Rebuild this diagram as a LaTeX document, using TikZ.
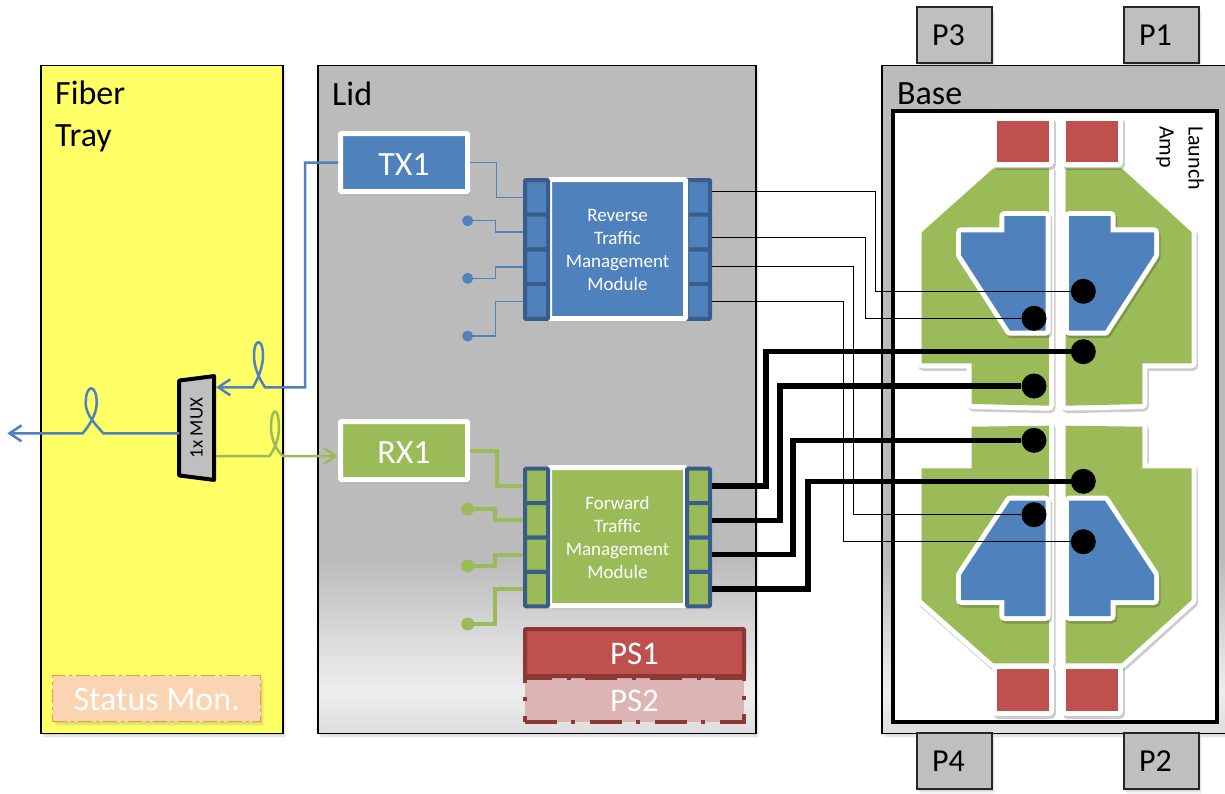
\documentclass[tikz,border=0pt]{standalone}
\usepackage{xcolor}
\usepackage{fontspec}
\setmainfont{Carlito}
\definecolor{TrayYellow}{HTML}{FFFF66}
\definecolor{LidGray}{HTML}{BBBBBB}
\definecolor{BoxGray}{HTML}{BFBFBF}
\definecolor{FiberBlue}{HTML}{4F81BD}
\definecolor{PortBlue}{HTML}{385D8A}
\definecolor{FiberGreen}{HTML}{9BBB59}
\definecolor{PowerRed}{HTML}{C0504D}
\definecolor{PowerDark}{HTML}{8C3836}
\definecolor{PowerPale}{HTML}{DBB4B3}
\definecolor{MonFill}{HTML}{FBD4B4}
\definecolor{MonEdge}{HTML}{F79646}
\usepackage{tikz}
\usetikzlibrary{calc, positioning, shapes.geometric, arrows.meta, shadows}
\pgfdeclareverticalshading{panelshade}{100bp}{color(0bp)=(LidGray!50!white); color(25bp)=(LidGray!50!white);
  color(28bp)=(LidGray!25!white); color(33bp)=(LidGray!60!white); color(38bp)=(LidGray); color(100bp)=(LidGray)}
\newcommand{\basepad}[2]{%
  \draw[padshadow] #2 -- cycle;
  \draw[padline] #2 -- cycle;
  \fill[#1] #2 -- cycle;}

\begin{document}
\begin{tikzpicture}[
    x=1pt, y=-1pt,
    softshadow/.style={drop shadow={shadow xshift=1pt, shadow yshift=-1.5pt, opacity=.15},
                       drop shadow={shadow xshift=2pt, shadow yshift=-3pt, opacity=.12},
                       drop shadow={shadow xshift=3pt, shadow yshift=-4.5pt, opacity=.08}},
    panel/.style={draw=black, line width=1.2pt, minimum height=668pt, inner sep=0pt, softshadow},
    paneltext/.style={inner sep=0pt, align=left, font=\fontsize{34}{42}\selectfont},
    loadbox/.style={draw=black!85, fill=BoxGray, line width=1.2pt, minimum width=75pt, minimum height=56pt,
                    inner sep=0pt, text height=21pt, text depth=0pt, softshadow, font=\fontsize{32}{38}\selectfont},
    optic/.style={draw=white, line width=5pt, rounded corners=1pt, minimum width=127pt, minimum height=58pt,
                  inner sep=0pt, text=white, text height=25pt, text depth=0pt, softshadow,
                  font=\fontsize{34}{40}\selectfont},
    module/.style={draw=white, line width=5pt, rounded corners=1pt, minimum width=136pt, inner sep=0pt,
                   align=center, text=white, softshadow, font=\fontsize{19}{23}\selectfont},
    port/.style={draw=PortBlue, line width=4pt, minimum width=23pt, inner sep=0pt, rounded corners=1pt},
    revport/.style={port, fill=FiberBlue, minimum height=34.75pt},
    fwdport/.style={port, fill=FiberGreen, minimum height=34.4pt},
    revdot/.style={circle, fill=FiberBlue, minimum size=11pt, inner sep=0pt},
    fwddot/.style={circle, fill=FiberGreen, minimum size=13pt, inner sep=0pt},
    basedot/.style={circle, fill=black, minimum size=25pt, inner sep=0pt},
    power/.style={minimum width=219pt, inner sep=0pt, line width=4pt, text=white, text height=23.5pt,
                  text depth=0pt, font=\fontsize{33}{38}\selectfont},
    padline/.style={draw=white, line width=10pt, line join=round},
    padshadow/.style={draw=black, opacity=.2, line width=10pt, line join=round, shift={(1.5,2.5)}},
    fiberarr/.style={line width=2.5pt, -{Straight Barb[length=12pt, width=16pt]}},
    thinwire/.style={draw=black, line width=1pt},
    thickwire/.style={draw=black, line width=5.5pt},
    elbow/.style={to path={-| ($(\tikztostart)!.5!(\tikztotarget)$) |- (\tikztotarget)}}
  ]
    \useasboundingbox (0,0) rectangle (1225,793);
    \fill[white] (0,0) rectangle (1225,793);

    % panels
    \node[panel, fill=TrayYellow, minimum width=242pt] (tray) at (162,399.5) {};
    \node[panel, shading=panelshade, minimum width=438pt] (lid) at (537,399.5) {};
    \node[panel, shading=panelshade, minimum width=350pt] (base) at (1057,399.5) {};
    \node[paneltext, anchor=west] (traytext) at (55,116) {Fiber\\Tray};
    \node[paneltext, anchor=west] (lidtext) at (332,94) {Lid};
    \node[paneltext, anchor=west] (basetext) at (897,94) {Base};
    \node[draw=black, fill=white, line width=4pt, minimum width=324pt, minimum height=611pt,
          inner sep=0pt] (frame) at (1055,416.5) {};
    \node[rotate=-90, anchor=west, align=left, inner sep=0pt, font=\fontsize{22}{29}\selectfont] (launch)
      at (1180,126) {Launch\\Amp};

    % load boxes
    \node[loadbox] (p3) at (954.5,35) {P3\rule{12pt}{0pt}};
    \node[loadbox] (p1) at (1161.5,35) {P1\rule{12pt}{0pt}};
    \node[loadbox] (p4) at (954.5,761) {P4\rule{12pt}{0pt}};
    \node[loadbox] (p2) at (1161.5,761) {P2\rule{12pt}{0pt}};

    % amplifier halves, top
    \basepad{FiberGreen}{(993.3,168.3) -- (921.7,232.3) -- (921.7,363.3) -- (971.7,363.3) -- (971.7,404) -- (1049,405.7) -- (1049,168.3)}
    \basepad{FiberGreen}{(1121.7,168.3) -- (1191.7,232.3) -- (1191.7,363.3) -- (1142.3,363.3) -- (1142.3,404) -- (1065.7,405.7) -- (1065.7,168.3)}
    \basepad{FiberBlue}{(1045.7,216) -- (1004.3,216) -- (1004.3,232.3) -- (961,232.3) -- (961,255) -- (1010,330.7) -- (1045.7,330.7)}
    \basepad{FiberBlue}{(1069,216) -- (1110.7,216) -- (1110.7,232.3) -- (1154,232.3) -- (1154,255) -- (1105,330.7) -- (1069,330.7)}
    \basepad{PowerRed}{(997,121) -- (1049,121) -- (1049,162) -- (997,162)}
    \basepad{PowerRed}{(1066,121) -- (1118,121) -- (1118,162) -- (1066,162)}
    % amplifier halves, bottom
    \basepad{FiberGreen}{(971.7,426.7) -- (1049,425.7) -- (1049,663.3) -- (993.3,663.3) -- (921.7,600) -- (921.7,468.3) -- (971.7,468.3)}
    \basepad{FiberGreen}{(1142.3,426.7) -- (1065.7,425.7) -- (1065.7,663.3) -- (1121.7,663.3) -- (1191.7,600) -- (1191.7,468.3) -- (1142.3,468.3)}
    \basepad{FiberBlue}{(1045.7,500.7) -- (1010,500.7) -- (961,575) -- (961,600) -- (1004.3,600) -- (1004.3,616) -- (1045.7,616)}
    \basepad{FiberBlue}{(1069,500.7) -- (1105,500.7) -- (1154,575) -- (1154,600) -- (1110.7,600) -- (1110.7,616) -- (1069,616)}
    \basepad{PowerRed}{(997,669) -- (1049,669) -- (1049,711) -- (997,711)}
    \basepad{PowerRed}{(1066,669) -- (1118,669) -- (1118,711) -- (1066,711)}

    % fiber tray
    \node[draw=black, fill=BoxGray, line width=4pt, line join=round, trapezium, trapezium stretches=true,
          trapezium left angle=77, trapezium right angle=77, minimum width=104pt, minimum height=35pt,
          inner sep=0pt, rotate=90, font=\fontsize{19}{20}\selectfont] (mux) at (196.6,428) {1x MUX};
    \node[draw=MonEdge, fill=MonFill, line width=1.5pt, dash pattern=on 14pt off 4pt on 3pt off 4pt,
          minimum width=208pt, minimum height=46pt, inner sep=0pt, text=white, text height=23pt, text depth=0pt,
          softshadow, font=\fontsize{34}{40}\selectfont] (status) at (156.7,698.7) {Status Mon.};

    % lid
    \node[optic, fill=FiberBlue] (tx1) at (404,162.5) {TX1};
    \node[optic, fill=FiberGreen] (rx1) at (404,450.5) {RX1};
    \node[revport] (revR1) at (698.5,197.4) {};
    \node[revport] (revR2) at (698.5,232.1) {};
    \node[revport] (revR3) at (698.5,266.9) {};
    \node[revport] (revR4) at (698.5,301.6) {};
    \node[module, fill=FiberBlue, minimum height=139pt] (revmod) at (617.5,249)
      {\rule{0pt}{14.2pt}Reverse\\Traffic\\Management\\Module};
    \node[revport] (revL1) at (536.5,197.4) {};
    \node[revport] (revL2) at (536.5,232.1) {};
    \node[revport] (revL3) at (536.5,266.9) {};
    \node[revport] (revL4) at (536.5,301.6) {};
    \node[module, fill=FiberGreen, minimum height=138pt] (fwdmod) at (617.5,536.5)
      {\rule{0pt}{14.2pt}Forward\\Traffic\\Management\\Module};
    \node[fwdport] (fwdL1) at (536.5,485.9) {};
    \node[fwdport] (fwdL2) at (536.5,520.3) {};
    \node[fwdport] (fwdL3) at (536.5,554.7) {};
    \node[fwdport] (fwdL4) at (536.5,589.1) {};
    \node[fwdport] (fwdR1) at (698.5,485.9) {};
    \node[fwdport] (fwdR2) at (698.5,520.3) {};
    \node[fwdport] (fwdR3) at (698.5,554.7) {};
    \node[fwdport] (fwdR4) at (698.5,589.1) {};
    \node[power, draw=PowerDark, fill=PowerPale, dash pattern=on 32pt off 14pt on 4pt off 15pt,
          minimum height=44pt] (ps2) at (634.5,700) {PS2};
    \node[power, draw=PowerDark, fill=PowerRed, minimum height=47pt, rounded corners=1pt] (ps1) at (634.5,652.5) {PS1};

    \node[revdot] (revin2) at (467.7,220.7) {};
    \node[revdot] (revin3) at (467.7,278.3) {};
    \node[revdot] (revin4) at (467.7,336) {};
    \node[fwddot] (fwdin2) at (467.7,509) {};
    \node[fwddot] (fwdin3) at (467.7,566) {};
    \node[fwddot] (fwdin4) at (467.7,624) {};

    \draw[draw=FiberBlue, line width=1.5pt] (tx1.east) to[elbow] (revL1.west);
    \draw[draw=FiberBlue, line width=1.5pt] (revin2.center) to[elbow] (revL2.west);
    \draw[draw=FiberBlue, line width=1.5pt] (revin3.center) to[elbow] (revL3.west);
    \draw[draw=FiberBlue, line width=1.5pt] (revin4.center) to[elbow] (revL4.west);
    \draw[draw=FiberGreen, line width=4pt] (rx1.east) to[elbow] (fwdL1.west);
    \draw[draw=FiberGreen, line width=4pt] (fwdin2.center) to[elbow] (fwdL2.west);
    \draw[draw=FiberGreen, line width=4pt] (fwdin3.center) to[elbow] (fwdL3.west);
    \draw[draw=FiberGreen, line width=4pt] (fwdin4.center) to[elbow] (fwdL4.west);

    % wires to the amplifier
    \node[basedot] (dotA) at (1083.3,291.3) {};
    \node[basedot] (dotB) at (1034,318.3) {};
    \node[basedot] (dotC) at (1083.3,351.7) {};
    \node[basedot] (dotD) at (1034,386) {};
    \node[basedot] (dotE) at (1034,440.3) {};
    \node[basedot] (dotF) at (1083.3,481.3) {};
    \node[basedot] (dotG) at (1034,514.7) {};
    \node[basedot] (dotH) at (1083.3,541.7) {};

    \draw[thinwire] (revR1.east |- 0,191.7) -| (875,0 |- dotA) -- (dotA);
    \draw[thinwire] (revR2.east |- 0,237.7) -| (865,0 |- dotB) -- (dotB);
    \draw[thinwire] (revR3.east) -| (853,0 |- dotG) -- (dotG);
    \draw[thinwire] (revR4.east) -| (843,0 |- dotH) -- (dotH);
    \draw[thickwire] (fwdR1.east) -| (766,0 |- dotC) -- (dotC);
    \draw[thickwire] (fwdR2.east) -| (780,0 |- dotD) -- (dotD);
    \draw[thickwire] (fwdR3.east) -| (793,0 |- dotE) -- (dotE);
    \draw[thickwire] (fwdR4.east) -| (808,0 |- dotF) -- (dotF);

    % fibers with their loops
    \coordinate (txturn) at (305,387.3);
    \coordinate (muxtx) at (216,387.3);
    \coordinate (muxline) at (179.3,433.3);
    \coordinate (lineend) at (7.3,433.3);
    \coordinate (muxrx) at (216,456);
    \draw[draw=FiberBlue, fiberarr] (tx1.west) -| (txturn) -- (265,387.3)
      .. controls (259,378) and (254,368) .. (254,355)
      .. controls (254,338) and (263,338) .. (263,355)
      .. controls (263,368) and (258,378) .. (253,387.3) -- (muxtx);
    \draw[draw=FiberBlue, fiberarr] (muxline) -- (103.3,433.3)
      .. controls (96,425) and (85.7,415) .. (85.7,403)
      .. controls (85.7,383.5) and (96.7,383.5) .. (96.7,403)
      .. controls (96.7,415) and (88,427) .. (82.7,433.3) -- (lineend);
    \draw[draw=FiberGreen, fiberarr] (muxrx) -- (269.3,456)
      .. controls (272.5,453) and (279,440) .. (279,428)
      .. controls (279,406) and (271,406) .. (271,428)
      .. controls (271,440) and (278,453) .. (283.3,456) -- (rx1.west |- muxrx);
  \end{tikzpicture}
\end{document}
